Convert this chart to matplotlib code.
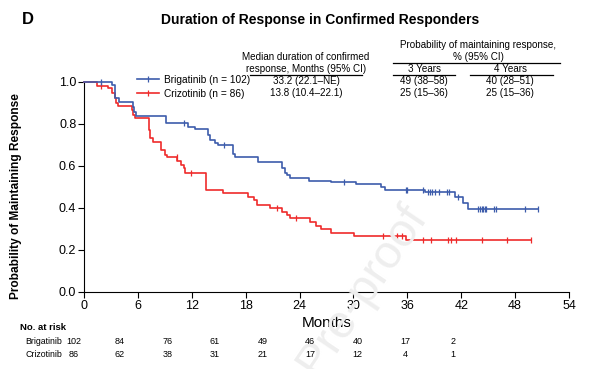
import numpy as np
import matplotlib
matplotlib.use("Agg")
import matplotlib.pyplot as plt
from matplotlib.lines import Line2D

plt.rcParams['font.family'] = ['Liberation Sans', 'DejaVu Sans']

# Kaplan-Meier steps (months, probability)
brig_t = [0, 3.1, 3.4, 3.5, 3.9, 5.5, 5.6, 5.8, 9.1, 11.6, 12.4, 13.8, 14.0, 14.6, 14.9,
          16.6, 16.8, 19.4, 22.0, 22.4, 22.6, 22.9, 25.1, 27.5, 30.3, 33.1, 33.5, 38.0,
          41.3, 42.2, 42.8, 50.6]
brig_s = [1.0, 0.986, 0.946, 0.922, 0.903, 0.883, 0.859, 0.838, 0.803, 0.787, 0.775, 0.748,
          0.724, 0.711, 0.700, 0.657, 0.641, 0.618, 0.589, 0.568, 0.557, 0.541, 0.530, 0.522,
          0.512, 0.499, 0.486, 0.476, 0.454, 0.425, 0.394, 0.394]
brig_cens = [1.9, 11.1, 15.6, 29.0, 35.9, 36.0, 37.7, 38.3, 38.5, 38.7, 39.1, 39.5, 40.4,
             40.6, 41.6, 43.9, 44.1, 44.3, 44.4, 44.6, 44.8, 45.7, 45.9, 49.1, 50.6]

criz_t = [0, 1.4, 2.7, 3.1, 3.4, 3.6, 3.8, 5.3, 5.5, 5.7, 7.2, 7.4, 7.7, 8.6, 9.0, 9.2,
          10.4, 10.8, 11.1, 11.2, 13.6, 15.5, 18.3, 18.9, 19.3, 20.7, 22.0, 22.6, 22.9,
          25.2, 25.8, 26.4, 27.5, 30.1, 35.8, 49.8]
criz_s = [1.0, 0.981, 0.970, 0.946, 0.922, 0.898, 0.886, 0.867, 0.843, 0.827, 0.771, 0.731,
          0.716, 0.676, 0.652, 0.641, 0.625, 0.605, 0.589, 0.565, 0.486, 0.470, 0.454, 0.438,
          0.414, 0.398, 0.382, 0.367, 0.351, 0.335, 0.314, 0.298, 0.282, 0.267, 0.248, 0.248]
criz_cens = [1.9, 10.3, 11.9, 21.5, 23.6, 33.3, 34.9, 35.4, 37.7, 38.6, 40.5, 40.9, 41.4,
             44.3, 47.1, 49.8]

risk_labels = ['Brigatinib', 'Crizotinib']
brig_risk = [102, 84, 76, 61, 49, 46, 40, 17, 2]
criz_risk = [86, 62, 38, 31, 21, 17, 12, 4, 1]

legend_labels = ['Brigatinib (n = 102)', 'Crizotinib (n = 86)']
median_vals = ['33.2 (22.1\u2013NE)', '13.8 (10.4\u201322.1)']
yr3_vals = ['49 (38\u201358)', '25 (15\u201336)']
yr4_vals = ['40 (28\u201351)', '25 (15\u201336)']

BLUE = '#3d5cab'
RED = '#ef2b2b'
W, H = 591, 369

fig = plt.figure(figsize=(W / 100, H / 100), dpi=100)
ax = fig.add_axes([84 / W, 1 - 292 / H, 485 / W, 210 / H])

# watermark
fig.text(362 / W, 1 - 290 / H, 'Pre-proof', rotation=56, fontsize=34, color='#eeeeee',
         ha='center', va='center', zorder=0)

def draw_curve(t, s, cens, color):
    ax.step(t, s, where='post', color=color, lw=1.2, clip_on=False, zorder=3)
    t = np.array(t)
    idx = np.searchsorted(t, cens, side='right') - 1
    ys = np.array(s)[idx]
    ax.plot(cens, ys, ls='none', marker='|', ms=5, mew=0.9, color=color,
            clip_on=False, zorder=3)

draw_curve(criz_t, criz_s, criz_cens, RED)
draw_curve(brig_t, brig_s, brig_cens, BLUE)

ax.set_xlim(0, 54)
ax.set_ylim(0, 1.0)
ax.set_xticks(np.arange(0, 55, 6))
ax.set_yticks(np.arange(0, 1.01, 0.2))
ax.set_yticklabels(['%.1f' % v for v in np.arange(0, 1.01, 0.2)])
ax.spines['top'].set_visible(False)
ax.spines['right'].set_visible(False)
ax.tick_params(labelsize=9, length=4, width=0.8, pad=1.5)
ax.set_xlabel('Months', fontsize=11, labelpad=3)
ax.set_ylabel('Probability of Maintaining Response', fontsize=8.6, fontweight='bold')
ax.yaxis.set_label_coords(-0.128, 0.455)

fig.text(22 / W, 1 - 19 / H, 'D', fontsize=12, fontweight='bold', va='center')
fig.text(320 / W, 1 - 20 / H, 'Duration of Response in Confirmed Responders',
         fontsize=10, fontweight='bold', ha='center', va='center')

# legend
handles = [Line2D([], [], color=c, lw=1.2, marker='|', ms=5, mew=0.9) for c in (BLUE, RED)]
fig.legend(handles, legend_labels, loc='upper left', bbox_to_anchor=(137 / W, 1 - 75 / H),
           frameon=False, fontsize=7.3, handlelength=2.2, handletextpad=0.5,
           labelspacing=0.35, borderaxespad=0, borderpad=0)

# header table
def ftext(x, y, s, **kw):
    fig.text(x / W, 1 - y / H, s, fontsize=7.1, ha='center', va='center', **kw)

def fline(x0, x1, y):
    fig.add_artist(Line2D([x0 / W, x1 / W], [1 - y / H, 1 - y / H], color='black', lw=0.9))

ftext(306, 57, 'Median duration of confirmed')
ftext(306, 69, 'response, Months (95% CI)')
fline(250, 362, 75)
ftext(478, 45, 'Probability of maintaining response,')
ftext(478, 57, '% (95% CI)')
fline(393, 560, 63)
ftext(424, 69, '3 Years')
ftext(510, 69, '4 Years')
fline(393, 455, 75)
fline(470, 553, 75)
for i in range(2):
    y = 81.5 + 11.5 * i
    ftext(306, y, median_vals[i])
    ftext(424, y, yr3_vals[i])
    ftext(510, y, yr4_vals[i])

# number at risk
fig.text(20 / W, 1 - 327 / H, 'No. at risk', fontsize=6.8, fontweight='bold', va='center')
for r, (lab, vals) in enumerate(zip(risk_labels, [brig_risk, criz_risk])):
    y = 1 - (342 + 12.5 * r) / H
    fig.text(25 / W, y, lab, fontsize=6.3, va='center')
    for i, v in enumerate(vals):
        x = 74 if i == 0 else 72 + 47.6 * i
        fig.text(x / W, y, str(v), fontsize=6.5, ha='center', va='center')

fig.savefig('out.png', dpi=100)
